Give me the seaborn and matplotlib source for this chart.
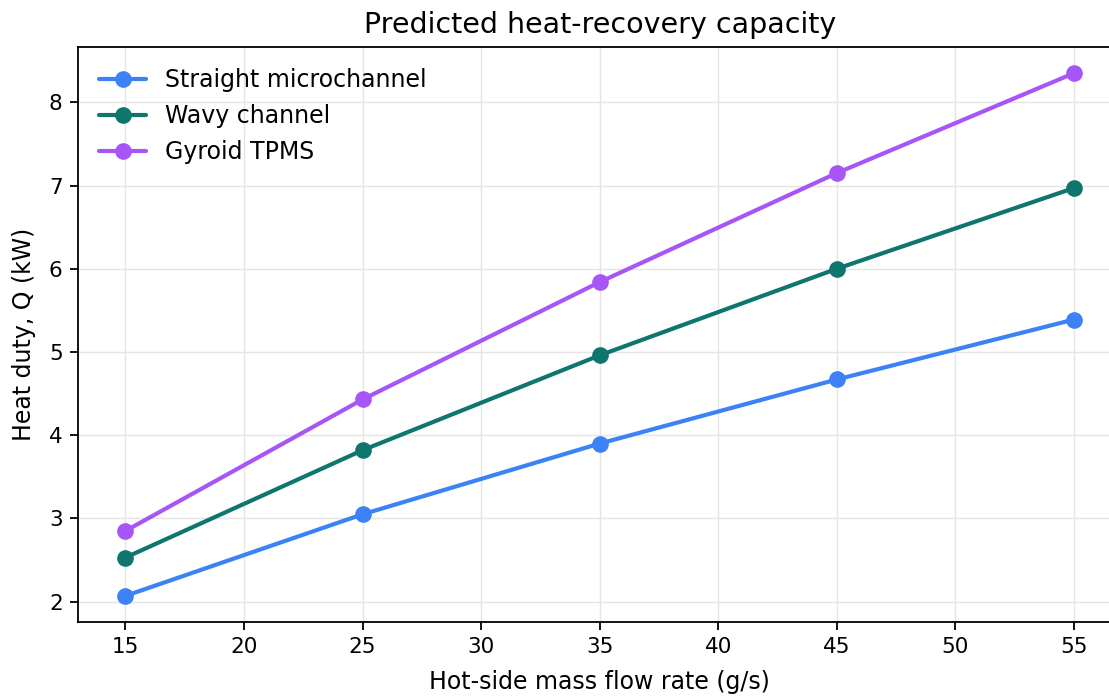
import matplotlib
matplotlib.use("Agg")
import matplotlib.pyplot as plt
import seaborn as sns
import pandas as pd

flow = [15, 25, 35, 45, 55]
straight = [2.07, 3.05, 3.90, 4.67, 5.39]
wavy = [2.53, 3.82, 4.96, 6.00, 6.97]
gyroid = [2.85, 4.43, 5.84, 7.15, 8.35]
series_names = ["Straight microchannel", "Wavy channel", "Gyroid TPMS"]
colors = ["#3b82f6", "#0f766e", "#a855f7"]

rows = []
for name, vals in zip(series_names, [straight, wavy, gyroid]):
    for x, y in zip(flow, vals):
        rows.append({"flow": x, "Q": y, "series": name})
df = pd.DataFrame(rows)

sns.set_style("ticks")
plt.rcParams['font.family'] = ['DejaVu Sans']
plt.rcParams['text.color'] = 'black'
plt.rcParams['axes.labelcolor'] = 'black'
plt.rcParams['xtick.color'] = 'black'
plt.rcParams['ytick.color'] = 'black'
plt.rcParams['axes.edgecolor'] = 'black'

fig = plt.figure(figsize=(11.09, 6.96), dpi=100)
ax = fig.add_axes([78/1109, 74/696, 1043.5/1109, 575/696])

sns.lineplot(data=df, x="flow", y="Q", hue="series", hue_order=series_names,
             palette=colors, marker="o", markersize=12, markeredgewidth=0,
             linewidth=3, ax=ax)

ax.set_xlim(13, 57)
ax.set_ylim(1.756, 8.664)
ax.set_xticks([15, 20, 25, 30, 35, 40, 45, 50, 55])
ax.set_yticks([2, 3, 4, 5, 6, 7, 8])
ax.grid(True, color="#e5e5e5", linewidth=1)
ax.set_axisbelow(True)
ax.tick_params(labelsize=15.5, length=6, width=1.3, pad=5)
ax.set_xlabel("Hot-side mass flow rate (g/s)", fontsize=17, labelpad=9)
ax.set_ylabel("Heat duty, Q (kW)", fontsize=17, labelpad=9)
ax.set_title("Predicted heat-recovery capacity", fontsize=20.5, pad=10)
for s in ax.spines.values():
    s.set_linewidth(1.3)
leg = ax.legend(frameon=False, fontsize=17, loc="upper left", handlelength=2.0)
for line in leg.get_lines():
    line.set_linewidth(3)

fig.savefig("out.png", dpi=100)
